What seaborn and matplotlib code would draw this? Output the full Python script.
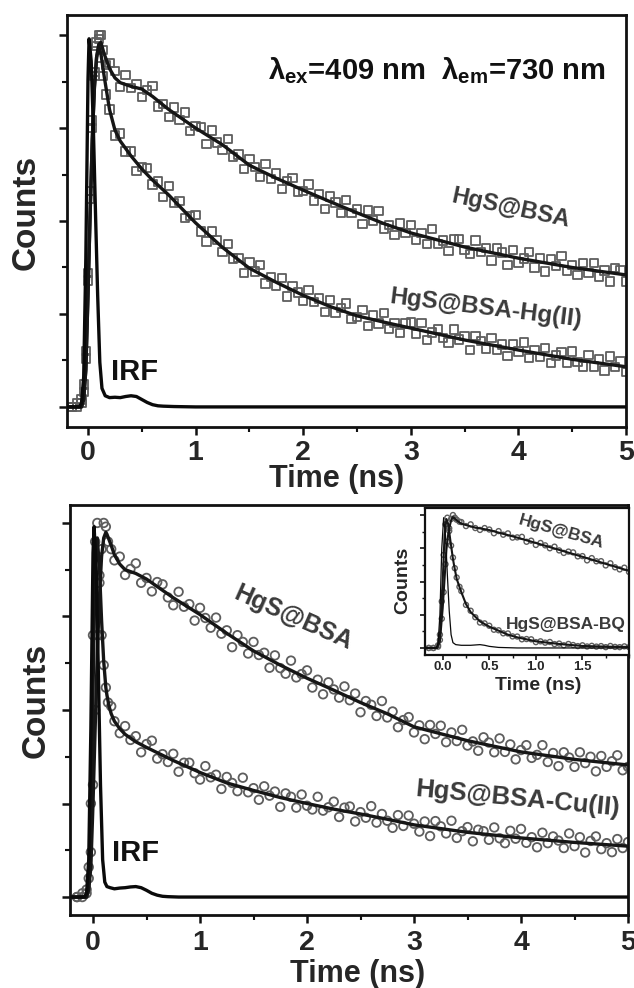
import numpy as np
import pandas as pd
import matplotlib
matplotlib.use("Agg")
import matplotlib.pyplot as plt
from matplotlib.ticker import MultipleLocator, NullFormatter, FixedLocator, FixedFormatter
import seaborn as sns

# ------------------------------------------------------------------ data
# time channels (ns) of the measured decays in the two main panels
DATA_T = [-0.15, -0.10, -0.06, -0.04, -0.02, 0.00, 0.02, 0.04, 0.06, 0.08, 0.10, 0.12, 0.14, 0.17, 0.20,
          0.25, 0.30, 0.35, 0.40, 0.45, 0.50, 0.55, 0.60, 0.65, 0.70, 0.75, 0.80, 0.85, 0.90, 0.95,
          1.00, 1.05, 1.10, 1.15, 1.20, 1.25, 1.30, 1.35, 1.40, 1.45, 1.50, 1.55, 1.60, 1.65, 1.70,
          1.75, 1.80, 1.85, 1.90, 1.95, 2.00, 2.05, 2.10, 2.15, 2.20, 2.25, 2.30, 2.35, 2.40, 2.45,
          2.50, 2.55, 2.60, 2.65, 2.70, 2.75, 2.80, 2.85, 2.90, 2.95, 3.00, 3.05, 3.10, 3.15, 3.20,
          3.25, 3.30, 3.35, 3.40, 3.45, 3.50, 3.55, 3.60, 3.65, 3.70, 3.75, 3.80, 3.85, 3.90, 3.95,
          4.00, 4.05, 4.10, 4.15, 4.20, 4.25, 4.30, 4.35, 4.40, 4.45, 4.50, 4.55, 4.60, 4.65, 4.70,
          4.75, 4.80, 4.85, 4.90, 4.95, 5.00]

# top panel, HgS@BSA (squares)
TOP_BSA = [0.00, 0.00, 0.01, 0.04, 0.13, 0.34, 0.56, 0.75, 0.89, 0.97, 1.00, 1.00, 0.96, 0.92, 0.925,
           0.903, 0.860, 0.892, 0.857, 0.868, 0.833, 0.853, 0.863, 0.808, 0.815, 0.780, 0.805, 0.772, 0.792, 0.742,
           0.755, 0.753, 0.707, 0.743, 0.711, 0.691, 0.720, 0.673, 0.679, 0.640, 0.666, 0.645, 0.619, 0.653, 0.613,
           0.628, 0.586, 0.608, 0.615, 0.578, 0.581, 0.598, 0.555, 0.573, 0.532, 0.566, 0.550, 0.521, 0.557, 0.521,
           0.533, 0.492, 0.528, 0.501, 0.526, 0.480, 0.489, 0.463, 0.493, 0.467, 0.490, 0.449, 0.468, 0.439, 0.478,
           0.439, 0.448, 0.419, 0.450, 0.452, 0.422, 0.411, 0.448, 0.416, 0.428, 0.394, 0.426, 0.415, 0.381, 0.422,
           0.388, 0.399, 0.416, 0.375, 0.399, 0.364, 0.398, 0.379, 0.406, 0.366, 0.382, 0.354, 0.387, 0.360, 0.387,
           0.351, 0.367, 0.337, 0.374, 0.368, 0.337]

# top panel, HgS@BSA-Hg(II) (squares)
TOP_HG = [0.00, 0.01, 0.02, 0.06, 0.15, 0.36, 0.58, 0.77, 0.90, 0.98, 0.99, 0.94, 0.89, 0.84, 0.80,
          0.730, 0.735, 0.687, 0.687, 0.635, 0.645, 0.643, 0.598, 0.606, 0.564, 0.594, 0.549, 0.554, 0.508, 0.513,
          0.516, 0.472, 0.445, 0.472, 0.449, 0.416, 0.438, 0.399, 0.401, 0.361, 0.388, 0.364, 0.382, 0.332, 0.350,
          0.326, 0.346, 0.297, 0.326, 0.308, 0.284, 0.315, 0.283, 0.292, 0.255, 0.287, 0.254, 0.266, 0.278, 0.236,
          0.242, 0.260, 0.218, 0.247, 0.224, 0.252, 0.210, 0.226, 0.199, 0.224, 0.227, 0.197, 0.226, 0.180, 0.200,
          0.210, 0.185, 0.173, 0.208, 0.181, 0.191, 0.153, 0.191, 0.177, 0.156, 0.185, 0.154, 0.168, 0.137, 0.169,
          0.149, 0.173, 0.132, 0.153, 0.134, 0.158, 0.118, 0.138, 0.147, 0.118, 0.149, 0.120, 0.109, 0.139, 0.109,
          0.128, 0.098, 0.136, 0.107, 0.122, 0.094]

# bottom panel, HgS@BSA (circles)
BOT_BSA = [0.00, 0.00, 0.01, 0.05, 0.12, 0.30, 0.50, 0.70, 0.84, 0.93, 1.00, 0.99, 0.95, 0.93, 0.90,
           0.910, 0.861, 0.877, 0.892, 0.840, 0.853, 0.817, 0.842, 0.836, 0.801, 0.780, 0.816, 0.776, 0.783, 0.739,
           0.773, 0.746, 0.720, 0.747, 0.704, 0.713, 0.668, 0.700, 0.682, 0.651, 0.682, 0.647, 0.653, 0.613, 0.646,
           0.612, 0.597, 0.632, 0.587, 0.596, 0.606, 0.560, 0.581, 0.542, 0.574, 0.555, 0.533, 0.563, 0.526, 0.544,
           0.494, 0.524, 0.514, 0.484, 0.524, 0.480, 0.496, 0.454, 0.473, 0.481, 0.440, 0.459, 0.422, 0.460, 0.436,
           0.458, 0.414, 0.440, 0.417, 0.447, 0.405, 0.416, 0.391, 0.427, 0.413, 0.387, 0.424, 0.388, 0.408, 0.368,
           0.393, 0.406, 0.372, 0.380, 0.406, 0.361, 0.385, 0.350, 0.387, 0.373, 0.348, 0.387, 0.358, 0.375, 0.336,
           0.377, 0.348, 0.363, 0.379, 0.339, 0.348]

# bottom panel, HgS@BSA-Cu(II) (circles)
BOT_CU = [0.00, 0.01, 0.02, 0.08, 0.25, 0.70, 0.95, 1.00, 0.86, 0.70, 0.62, 0.56, 0.52, 0.51, 0.47,
          0.438, 0.457, 0.420, 0.430, 0.387, 0.409, 0.418, 0.370, 0.382, 0.361, 0.383, 0.335, 0.359, 0.359, 0.331,
          0.314, 0.350, 0.320, 0.327, 0.289, 0.321, 0.305, 0.283, 0.319, 0.280, 0.291, 0.260, 0.296, 0.271, 0.282,
          0.241, 0.277, 0.268, 0.239, 0.274, 0.244, 0.234, 0.268, 0.231, 0.240, 0.255, 0.214, 0.239, 0.242, 0.202,
          0.227, 0.212, 0.243, 0.199, 0.222, 0.204, 0.185, 0.219, 0.190, 0.218, 0.196, 0.175, 0.202, 0.163, 0.203,
          0.189, 0.170, 0.204, 0.158, 0.176, 0.187, 0.149, 0.180, 0.176, 0.153, 0.186, 0.157, 0.144, 0.177, 0.156,
          0.182, 0.145, 0.160, 0.133, 0.172, 0.144, 0.162, 0.151, 0.131, 0.170, 0.136, 0.160, 0.119, 0.150, 0.162,
          0.128, 0.144, 0.120, 0.155, 0.131, 0.147]

# fitted decays, top panel
FIT_T_TOP = [-0.20, -0.06, -0.04, -0.02, 0.00, 0.02, 0.04, 0.06, 0.08, 0.10, 0.12, 0.15, 0.20, 0.25, 0.30,
             0.40, 0.50, 0.60, 0.75, 1.00, 1.25, 1.50, 1.75, 2.00, 2.25, 2.50, 2.75, 3.00, 3.50, 4.00, 4.50, 5.00]
FIT_TOP_BSA = [0, 0, 0.02, 0.10, 0.30, 0.52, 0.72, 0.86, 0.94, 0.975, 0.98, 0.95, 0.91, 0.885, 0.872,
               0.862, 0.855, 0.835, 0.80, 0.75, 0.705, 0.65, 0.615, 0.583, 0.552, 0.522, 0.493, 0.468, 0.43, 0.40, 0.375, 0.355]
FIT_TOP_HG = [0, 0, 0.02, 0.10, 0.30, 0.52, 0.72, 0.86, 0.94, 0.97, 0.95, 0.89, 0.80, 0.745, 0.715,
              0.675, 0.64, 0.61, 0.57, 0.495, 0.429, 0.373, 0.335, 0.30, 0.27, 0.245, 0.228, 0.212, 0.18, 0.153, 0.128, 0.108]

# fitted decays, bottom panel
FIT_T_BOT = [-0.20, -0.06, -0.04, -0.02, 0.00, 0.02, 0.04, 0.06, 0.08, 0.10, 0.12, 0.13, 0.15, 0.17, 0.20,
             0.25, 0.30, 0.40, 0.50, 0.60, 0.75, 1.00, 1.25, 1.50, 1.75, 2.00, 2.25, 2.50, 2.75, 3.00, 3.50, 4.00, 4.50, 5.00]
FIT_BOT_BSA = [0, 0, 0.02, 0.08, 0.25, 0.45, 0.65, 0.80, 0.91, 0.96, 0.975, 0.97, 0.955, 0.94, 0.915,
               0.89, 0.875, 0.865, 0.85, 0.83, 0.80, 0.755, 0.705, 0.658, 0.62, 0.585, 0.553, 0.52, 0.49, 0.455, 0.418, 0.388, 0.368, 0.353]
FIT_BOT_CU = [0, 0, 0.03, 0.15, 0.55, 0.88, 0.96, 0.88, 0.74, 0.63, 0.56, 0.54, 0.51, 0.49, 0.47,
              0.45, 0.435, 0.415, 0.40, 0.386, 0.365, 0.333, 0.305, 0.285, 0.266, 0.25, 0.235, 0.222, 0.208, 0.193, 0.173, 0.158, 0.146, 0.136]

# instrument response functions
IRF_T = [-0.20, -0.08, -0.06, -0.04, -0.02, 0.00, 0.01, 0.03, 0.05, 0.07, 0.09, 0.11, 0.13, 0.16, 0.20,
         0.25, 0.30, 0.35, 0.40, 0.45, 0.50, 0.55, 0.60, 0.65, 0.70, 0.80, 1.00, 5.00]
IRF_TOP = [0, 0, 0.01, 0.08, 0.40, 0.88, 0.99, 0.93, 0.75, 0.52, 0.30, 0.12, 0.05, 0.03, 0.025,
           0.026, 0.025, 0.028, 0.03, 0.028, 0.02, 0.012, 0.006, 0.003, 0.002, 0.001, 0, 0]
IRF_BOT = [0, 0, 0.01, 0.10, 0.45, 0.92, 0.99, 0.88, 0.60, 0.30, 0.10, 0.04, 0.028, 0.025, 0.022,
           0.024, 0.025, 0.027, 0.028, 0.025, 0.018, 0.010, 0.005, 0.002, 0.001, 0, 0, 0]

# inset: HgS@BSA vs HgS@BSA-BQ
INSET_T = [-0.15, -0.10, -0.05, -0.03, -0.01, 0.01, 0.03, 0.05, 0.07, 0.09, 0.11, 0.13, 0.15, 0.18,
           0.20, 0.25, 0.30, 0.35, 0.40, 0.45, 0.50, 0.55, 0.60, 0.65, 0.70, 0.75, 0.80, 0.85, 0.90, 0.95,
           1.00, 1.05, 1.10, 1.15, 1.20, 1.25, 1.30, 1.35, 1.40, 1.45, 1.50, 1.55, 1.60, 1.65, 1.70,
           1.75, 1.80, 1.85, 1.90, 1.95, 2.00]
INSET_BSA = [0.00, 0.00, 0.01, 0.06, 0.22, 0.42, 0.63, 0.80, 0.90, 0.97, 1.00, 0.98, 0.965, 0.95,
             0.947, 0.917, 0.930, 0.902, 0.888, 0.902, 0.891, 0.863, 0.879, 0.852, 0.862, 0.830, 0.832, 0.836, 0.799, 0.807,
             0.775, 0.790, 0.772, 0.750, 0.762, 0.734, 0.715, 0.725, 0.719, 0.689, 0.691, 0.659, 0.676, 0.652, 0.653,
             0.621, 0.637, 0.607, 0.591, 0.604, 0.572]
INSET_BQ = [0.00, 0.00, 0.02, 0.10, 0.35, 0.70, 0.93, 0.98, 0.88, 0.77, 0.68, 0.60, 0.53, 0.46,
            0.428, 0.324, 0.280, 0.231, 0.191, 0.185, 0.167, 0.137, 0.133, 0.110, 0.109, 0.087, 0.086, 0.065, 0.067, 0.065,
            0.044, 0.050, 0.040, 0.045, 0.029, 0.033, 0.020, 0.030, 0.022, 0.014, 0.020, 0.011, 0.016, 0.010, 0.014,
            0.006, 0.015, 0.008, 0.006, 0.012, 0.006]
FIT_T_IN = [-0.20, -0.06, -0.03, 0.00, 0.02, 0.04, 0.06, 0.08, 0.09, 0.10, 0.11, 0.12, 0.15, 0.20, 0.25,
            0.30, 0.35, 0.40, 0.50, 0.60, 0.70, 0.75, 0.80, 1.00, 1.25, 1.50, 1.75, 2.00]
FIT_IN_BSA = [0, 0, 0.05, 0.30, 0.52, 0.74, 0.86, 0.93, 0.96, 0.975, 0.985, 0.98, 0.96, 0.935, 0.925,
              0.915, 0.905, 0.90, 0.887, 0.868, 0.849, 0.84, 0.83, 0.79, 0.738, 0.686, 0.633, 0.58]
FIT_IN_BQ = [0, 0, 0.08, 0.50, 0.85, 0.97, 0.93, 0.82, 0.77, 0.72, 0.67, 0.63, 0.52, 0.42, 0.33,
             0.27, 0.235, 0.20, 0.16, 0.13, 0.10, 0.09, 0.08, 0.05, 0.03, 0.015, 0.01, 0.008]
IRF_T_IN = [-0.20, -0.07, -0.05, -0.03, -0.01, 0.01, 0.03, 0.05, 0.07, 0.09, 0.11, 0.14, 0.20, 0.30,
            0.40, 0.45, 0.50, 0.60, 0.80, 2.00]
IRF_IN = [0, 0, 0.03, 0.25, 0.75, 0.98, 0.85, 0.55, 0.28, 0.10, 0.04, 0.025, 0.02, 0.02,
          0.025, 0.02, 0.012, 0.004, 0, 0]

# ------------------------------------------------------------------ style
sns.set_style("ticks")
plt.rcParams["font.family"] = ["Liberation Sans", "DejaVu Sans"]
plt.rcParams["font.weight"] = "bold"
plt.rcParams["mathtext.fontset"] = "custom"
plt.rcParams["mathtext.bf"] = "Liberation Sans:bold"
plt.rcParams["mathtext.rm"] = "Liberation Sans:bold"
plt.rcParams["axes.linewidth"] = 2.0

MARK_EDGE = "#5e5e5e"
FIT_COLOR = "#161616"
LABEL_GRAY = "#3a3a3a"

fig = plt.figure(figsize=(6.34, 9.88), dpi=100)
fig.patch.set_facecolor("white")

ax_top = fig.add_axes([67 / 634, 1 - 427 / 988, (626 - 67) / 634, (427 - 15) / 988])
ax_bot = fig.add_axes([70 / 634, 1 - 915 / 988, (628 - 70) / 634, (915 - 505) / 988])
ax_in = fig.add_axes([425 / 634, 1 - 655 / 988, (629 - 425) / 634, (655 - 508) / 988])


def scatter(ax, t, v, marker, size, lw):
    df = pd.DataFrame({"t": t, "v": v})
    sns.scatterplot(data=df, x="t", y="v", marker=marker, s=size, ax=ax,
                    legend=False, zorder=2)
    coll = ax.collections[-1]
    coll.set_facecolor("none")
    coll.set_edgecolor(MARK_EDGE)
    coll.set_linewidth(lw)


def line(ax, t, v, color, lw, z=3):
    df = pd.DataFrame({"t": t, "v": v})
    sns.lineplot(data=df, x="t", y="v", estimator=None, sort=False, ax=ax,
                 color=color, linewidth=lw, zorder=z, legend=False)


def frame(ax, xlim, ylim, xmajor, xminor, labelsize, tick_len, tick_w, lw, pad):
    ax.set_xlim(*xlim)
    ax.set_ylim(*ylim)
    for sp in ax.spines.values():
        sp.set_visible(True)
        sp.set_linewidth(lw)
        sp.set_color("#111111")
    ax.xaxis.set_major_locator(MultipleLocator(xmajor))
    ax.xaxis.set_minor_locator(MultipleLocator(xminor))
    ax.yaxis.set_major_locator(MultipleLocator(0.25))
    ax.yaxis.set_minor_locator(MultipleLocator(0.125))
    ax.yaxis.set_major_formatter(NullFormatter())
    ax.tick_params(which="major", direction="out", length=tick_len, width=tick_w,
                   labelsize=labelsize, pad=pad, top=False, right=False, color="#111111")
    ax.tick_params(which="minor", direction="out", length=tick_len * 0.6, width=tick_w * 0.85,
                   top=False, right=False, color="#111111")
    for lab in ax.get_xticklabels():
        lab.set_fontweight("bold")
    ax.set_xlabel("")
    ax.set_ylabel("")
    ax.set_facecolor("white")


# ---------------- top panel
scatter(ax_top, DATA_T, TOP_BSA, "s", 36, 1.3)
scatter(ax_top, DATA_T, TOP_HG, "s", 36, 1.3)
line(ax_top, FIT_T_TOP, FIT_TOP_BSA, FIT_COLOR, 2.4)
line(ax_top, FIT_T_TOP, FIT_TOP_HG, FIT_COLOR, 2.4)
line(ax_top, IRF_T, IRF_TOP, "#0a0a0a", 2.4, z=4)
frame(ax_top, (-0.195, 5.0), (-0.054, 1.054), 1, 0.5, 20.5, 6, 1.8, 2.0, 3.0)
ax_top.set_xticks([0, 1, 2, 3, 4, 5])

ax_top.text(3.24, 0.905, "λ$_{\\mathbf{ex}}$=409 nm  λ$_{\\mathbf{em}}$=730 nm",
            fontsize=21, fontweight="bold", ha="center", va="center", color="#111111")
ax_top.text(3.93, 0.535, "HgS@BSA", fontsize=17, fontweight="bold", color=LABEL_GRAY,
            rotation=-12, ha="center", va="center", rotation_mode="anchor")
ax_top.text(3.70, 0.266, "HgS@BSA-Hg(II)", fontsize=17.5, fontweight="bold", color=LABEL_GRAY,
            rotation=-7, ha="center", va="center", rotation_mode="anchor")
ax_top.text(0.43, 0.094, "IRF", fontsize=21, fontweight="bold", color="#111111",
            ha="center", va="center")

# ---------------- bottom panel
scatter(ax_bot, DATA_T, BOT_BSA, "o", 38, 1.3)
scatter(ax_bot, DATA_T, BOT_CU, "o", 38, 1.3)
line(ax_bot, FIT_T_BOT, FIT_BOT_BSA, FIT_COLOR, 2.4)
line(ax_bot, FIT_T_BOT, FIT_BOT_CU, FIT_COLOR, 2.4)
line(ax_bot, IRF_T, IRF_BOT, "#0a0a0a", 2.4, z=4)
frame(ax_bot, (-0.215, 5.0), (-0.048, 1.048), 1, 0.5, 20.5, 6, 1.8, 2.0, 4.5)
ax_bot.set_xticks([0, 1, 2, 3, 4, 5])

ax_bot.text(1.87, 0.746, "HgS@BSA", fontsize=18, fontweight="bold", color=LABEL_GRAY,
            rotation=-24, ha="center", va="center", rotation_mode="anchor")
ax_bot.text(3.97, 0.262, "HgS@BSA-Cu(II)", fontsize=18.5, fontweight="bold", color=LABEL_GRAY,
            rotation=-5.5, ha="center", va="center", rotation_mode="anchor")
ax_bot.text(0.40, 0.118, "IRF", fontsize=21, fontweight="bold", color="#111111",
            ha="center", va="center")

# ---------------- inset
scatter(ax_in, INSET_T, INSET_BSA, "o", 13, 1.0)
scatter(ax_in, INSET_T, INSET_BQ, "o", 13, 1.0)
line(ax_in, FIT_T_IN, FIT_IN_BSA, FIT_COLOR, 1.5)
line(ax_in, FIT_T_IN, FIT_IN_BQ, FIT_COLOR, 1.5)
line(ax_in, IRF_T_IN, IRF_IN, "#0a0a0a", 0.9, z=4)
frame(ax_in, (-0.19, 2.0), (-0.053, 1.053), 0.5, 0.25, 9.5, 3.5, 1.2, 1.6, 1.0)
ax_in.xaxis.set_major_locator(FixedLocator([0.0, 0.5, 1.0, 1.5]))
ax_in.xaxis.set_major_formatter(FixedFormatter(["0.0", "0.5", "1.0", "1.5"]))
for lab in ax_in.get_xticklabels():
    lab.set_fontweight("bold")
ax_in.text(1.275, 0.872, "HgS@BSA", fontsize=12.5, fontweight="bold", color=LABEL_GRAY,
           rotation=-16, ha="center", va="center", rotation_mode="anchor")
ax_in.text(1.32, 0.18, "HgS@BSA-BQ", fontsize=12.5, fontweight="bold", color=LABEL_GRAY,
           ha="center", va="center")

# ---------------- axis titles
fig.text(26 / 634, 1 - 212 / 988, "Counts", fontsize=24, fontweight="bold", rotation=90,
         ha="center", va="center")
fig.text(36 / 634, 1 - 700 / 988, "Counts", fontsize=24, fontweight="bold", rotation=90,
         ha="center", va="center")
fig.text(337 / 634, 1 - 479 / 988, "Time (ns)", fontsize=22, fontweight="bold",
         ha="center", va="center")
fig.text(358 / 634, 1 - 974 / 988, "Time (ns)", fontsize=22, fontweight="bold",
         ha="center", va="center")
fig.text(403 / 634, 1 - 580 / 988, "Counts", fontsize=14, fontweight="bold", rotation=90,
         ha="center", va="center")
fig.text(538 / 634, 1 - 686 / 988, "Time (ns)", fontsize=14, fontweight="bold",
         ha="center", va="center")

fig.savefig("out.png", dpi=100, facecolor="white")
